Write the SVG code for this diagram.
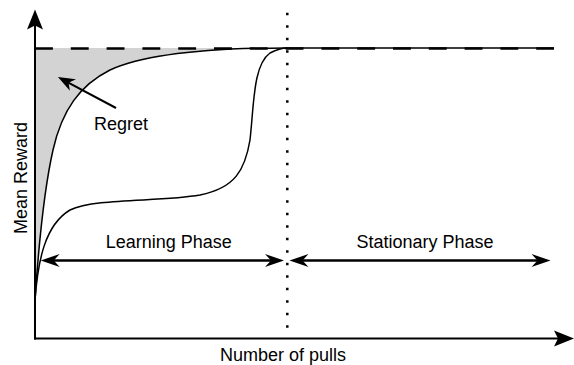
<svg xmlns="http://www.w3.org/2000/svg" width="574" height="365" viewBox="0 0 574 365">
  <style>
    .lbl { font-family: "Liberation Sans", Arial, sans-serif; font-size: 18px; fill: #000; }
    .curve { fill: none; stroke: #000; stroke-width: 1.5; }
    .axis { fill: none; stroke: #000; stroke-width: 2; }
    .phase { fill: none; stroke: #000; stroke-width: 2.5; }
  </style>
  <defs>
    <marker id="headSmall" markerUnits="userSpaceOnUse" orient="auto-start-reverse" refX="0" refY="0" markerWidth="40" markerHeight="40" overflow="visible">
      <path d="M10,0 L-9,-6.5 L-3,0 L-9,6.5 Z" fill="#000"/>
    </marker>
    <marker id="headAxis" markerUnits="userSpaceOnUse" orient="auto" refX="0" refY="0" markerWidth="40" markerHeight="40" overflow="visible">
      <path d="M10,0 L-10,-8 L-6,0 L-10,8 Z" fill="#000"/>
    </marker>
    <marker id="headRegret" markerUnits="userSpaceOnUse" orient="auto" refX="0" refY="0" markerWidth="40" markerHeight="40" overflow="visible">
      <path d="M8,0 L-9,-6.5 L-4,0 L-9,6.5 Z" fill="#000"/>
    </marker>
  </defs>
  <rect width="574" height="365" fill="#fff"/>

  <g id="regret-area">
    <path d="M35,300 C39,240 44,190 53,150 C62,110 80,85 110,70 C150,52 220,48 287,48 L35,48 Z" fill="#d3d3d3"/>
  </g>

  <g id="curves">
    <path id="fast-curve" class="curve" d="M35,300 C39,240 44,190 53,150 C62,110 80,85 110,70 C150,52 220,48 287,48 L554,48"/>
    <path id="slow-curve" class="curve" d="M35,300 C38,260 45,225 70,210 C95,198 160,202 200,195 C235,188 245,170 250,140 C254,105 253,65 270,53 C278,49 283,48 287,48"/>
  </g>

  <g id="optimum">
    <line x1="35" y1="48.5" x2="554" y2="48.5" stroke="#000" stroke-width="2.5" stroke-dasharray="17.9 17.9"/>
  </g>

  <g id="boundary">
    <line x1="287.3" y1="12.75" x2="287.3" y2="332" stroke="#000" stroke-width="2.5" stroke-dasharray="2.5 10"/>
  </g>

  <g id="axes">
    <line id="y-axis" class="axis" x1="35" y1="339.5" x2="35" y2="19.5" marker-end="url(#headAxis)"/>
    <line id="x-axis" class="axis" x1="34" y1="338.5" x2="564" y2="338.5" marker-end="url(#headAxis)"/>
  </g>

  <g id="connectors">
    <line id="learning-arrow" class="phase" x1="50.7" y1="260.5" x2="274" y2="260.5" marker-start="url(#headSmall)" marker-end="url(#headSmall)"/>
    <line id="stationary-arrow" class="phase" x1="299.5" y1="260.5" x2="540.5" y2="260.5" marker-start="url(#headSmall)" marker-end="url(#headSmall)"/>
    <line id="regret-arrow" stroke="#000" stroke-width="2" x1="116" y1="108" x2="65" y2="80.8" marker-end="url(#headRegret)"/>
  </g>

  <g id="labels">
    <text class="lbl" x="94" y="129.5">Regret</text>
    <text class="lbl" x="168.7" y="247.5" text-anchor="middle">Learning Phase</text>
    <text class="lbl" x="425" y="247.5" text-anchor="middle">Stationary Phase</text>
    <text class="lbl" x="283" y="360.5" text-anchor="middle">Number of pulls</text>
    <text class="lbl" transform="translate(27,178) rotate(-90)" x="0" y="0" text-anchor="middle">Mean Reward</text>
  </g>
</svg>
